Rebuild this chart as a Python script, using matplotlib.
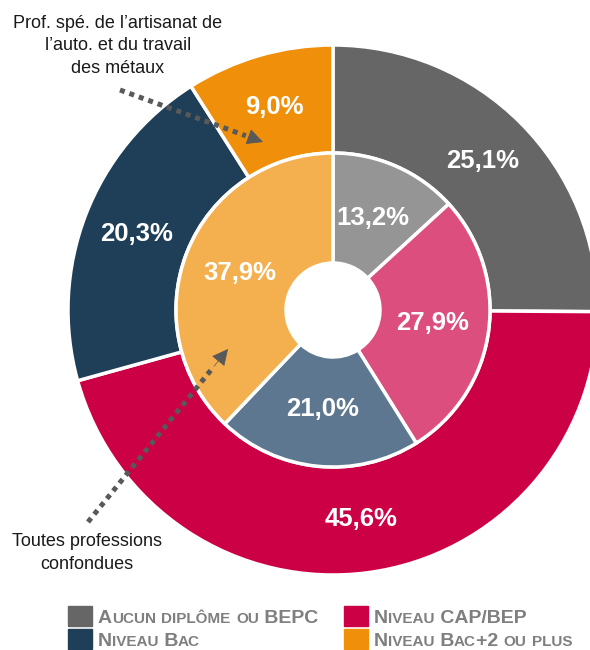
import matplotlib.pyplot as plt
from matplotlib.patches import Rectangle

plt.rcParams['font.family'] = ['Liberation Sans', 'DejaVu Sans']

# Données
categories = ['Aucun diplôme ou BEPC', 'Niveau CAP/BEP', 'Niveau Bac', 'Niveau Bac+2 ou plus']
prof_auto = [25.1, 45.6, 20.3, 9.0]        # anneau extérieur
toutes_prof = [13.2, 27.9, 21.0, 37.9]     # anneau intérieur
outer_colors = ['#666666', '#CC0044', '#1F3E58', '#F0900A']
inner_colors = ['#959595', '#DB4E7E', '#5E7790', '#F4B04E']

W, H = 590, 650
fig = plt.figure(figsize=(W / 100, H / 100), dpi=100)
ax = fig.add_axes([0, 0, 1, 1])
ax.set_xlim(0, W)
ax.set_ylim(0, H)
ax.set_aspect('equal')
ax.axis('off')


def py(y):
    # coordonnées pixel (origine en haut) -> coordonnées axe
    return H - y


cx, cy = 333, py(310)
r_out, r_mid, r_in = 265, 157, 47


def fmt(p):
    return f"{p:.1f}%".replace('.', ',')


txt = dict(color='white', fontsize=18.5, fontweight='bold')
ax.pie(prof_auto, colors=outer_colors, startangle=90, counterclock=False,
       center=(cx, cy), radius=r_out, autopct=fmt, pctdistance=211 / r_out,
       wedgeprops=dict(width=r_out - r_mid, edgecolor='white', linewidth=2.5),
       textprops=txt, frame=True)
ax.pie(toutes_prof, colors=inner_colors, startangle=90, counterclock=False,
       center=(cx, cy), radius=r_mid, autopct=fmt, pctdistance=100 / r_mid,
       wedgeprops=dict(width=r_mid - r_in, edgecolor='white', linewidth=2.5),
       textprops=txt, frame=True)
ax.set_xlim(0, W)
ax.set_ylim(0, H)
ax.axis('off')

# Annotations avec flèches en pointillés
grey = '#595959'
line = dict(arrowstyle='-', color=grey, lw=3.6, linestyle=(0, (1, 1)),
            capstyle='butt', shrinkA=0, shrinkB=0)
head = dict(arrowstyle='-|>', color=grey, lw=0.5, mutation_scale=26,
            shrinkA=0, shrinkB=0)
for (x0, y0), (x1, y1) in [((120, 90), (263, 142)), ((88, 522), (228, 349))]:
    ax.annotate('', xy=(x1 - 0.12 * (x1 - x0), py(y1 - 0.12 * (y1 - y0))),
                xytext=(x0, py(y0)), arrowprops=line)
    ax.annotate('', xy=(x1, py(y1)),
                xytext=(x1 - 0.1 * (x1 - x0), py(y1 - 0.1 * (y1 - y0))),
                arrowprops=head)

ax.text(118, py(46), "Prof. spé. de l’artisanat de\nl’auto. et du travail\ndes métaux",
        ha='center', va='center', fontsize=13, color='#1a1a1a', linespacing=1.4)
ax.text(87, py(553), "Toutes professions\nconfondues",
        ha='center', va='center', fontsize=13, color='#1a1a1a', linespacing=1.4)

# Légende (petites capitales)
renderer = fig.canvas.get_renderer()


def small_caps(x, y, label, big=14, small=11, color='#7F7F7F'):
    runs = []
    for ch in label:
        is_small = ch.islower()
        size = small if is_small else big
        c = ch.upper()
        if runs and runs[-1][1] == size:
            runs[-1][0] += c
        else:
            runs.append([c, size])
    for s, size in runs:
        t = ax.text(x, y, s, fontsize=size, fontweight='bold', color=color,
                    ha='left', va='baseline')
        bb = t.get_window_extent(renderer=renderer)
        x += bb.width


legend_pos = [(68, 606), (344, 606), (68, 629), (344, 629)]
for (lx, ly), col, lab in zip(legend_pos, outer_colors, categories):
    ax.add_patch(Rectangle((lx, py(ly + 20)), 24, 20, color=col))
    small_caps(lx + 30, py(ly + 17), lab)

fig.savefig('out.png', dpi=100)
